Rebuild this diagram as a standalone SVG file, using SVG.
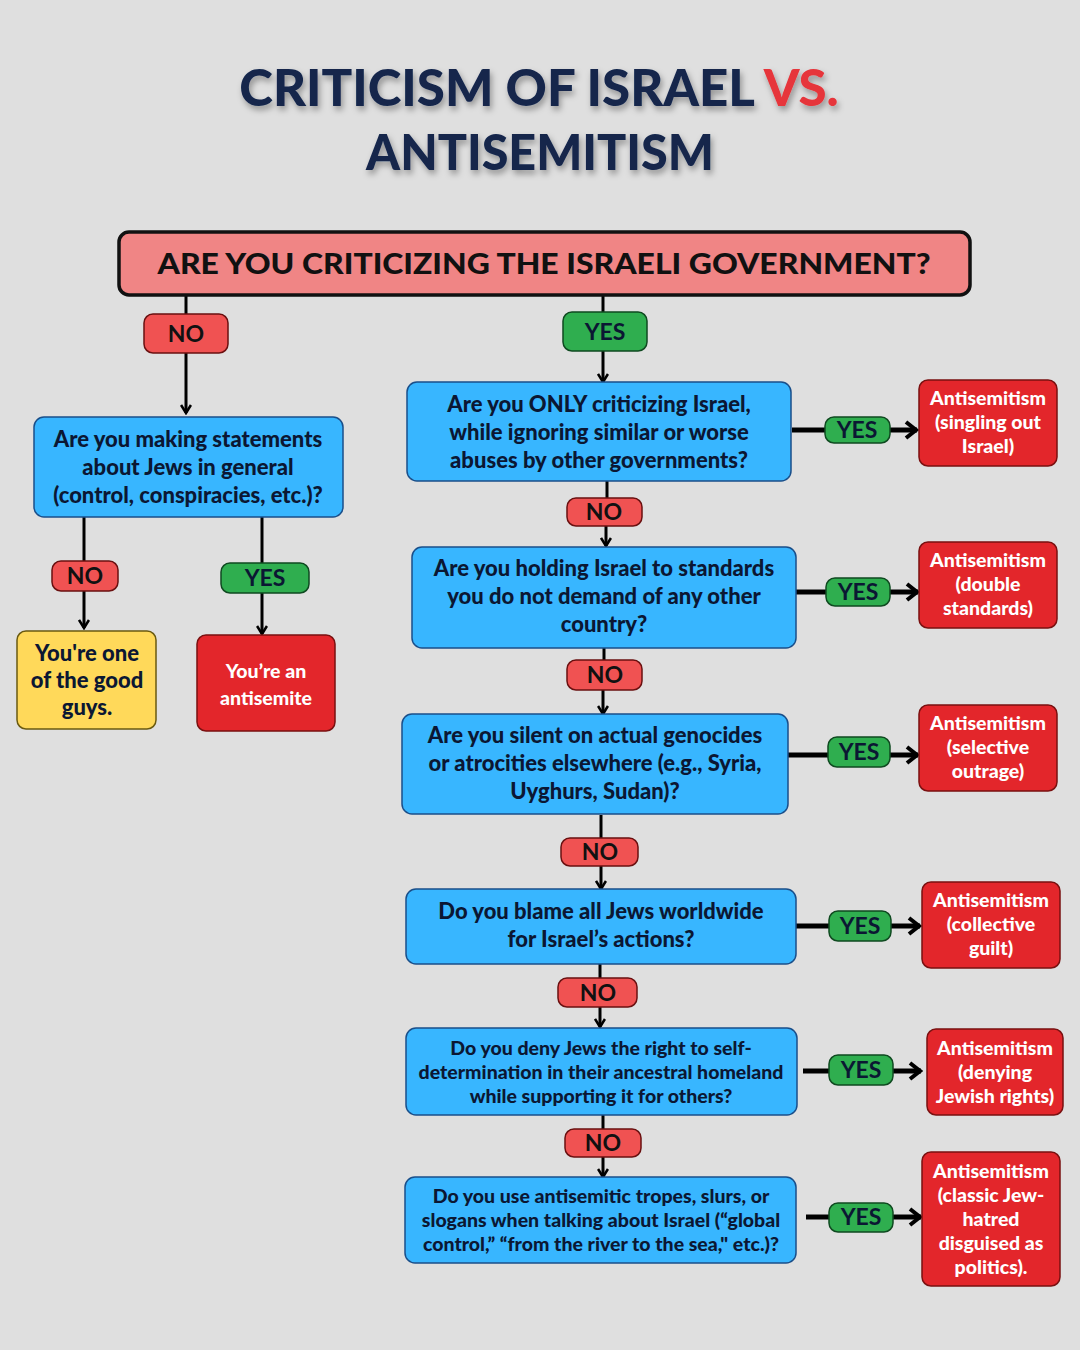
<svg xmlns="http://www.w3.org/2000/svg" width="1080" height="1350" viewBox="0 0 1080 1350">
<defs>
<style>
.q{fill:#38b6ff;stroke:#1a4f8a;stroke-width:1.5}
.res{fill:#e3262b;stroke:#7a1010;stroke-width:1.5}
.no{fill:#f05252;stroke:#6a1010;stroke-width:1.5}
.yes{fill:#2fae4f;stroke:#0f4a20;stroke-width:1.5}
.qt{font-family:Lato,"Open Sans",sans-serif;font-weight:900;font-size:22px;fill:#0b1733;text-anchor:middle}
.qs{font-family:Lato,"Open Sans",sans-serif;font-weight:900;font-size:19.5px;fill:#0b1733;text-anchor:middle}
.rt{font-family:Lato,"Open Sans",sans-serif;font-weight:900;font-size:19.5px;fill:#ffffff;text-anchor:middle}
.lt{font-family:Lato,"Open Sans",sans-serif;font-weight:700;font-size:23px;text-anchor:middle}
.ln{fill:none;stroke:#000;stroke-width:3}
.lh{fill:none;stroke:#000;stroke-width:5}
</style>
<marker id="ad" viewBox="0 0 12 12" refX="10" refY="6" markerWidth="12" markerHeight="12" markerUnits="userSpaceOnUse" orient="auto">
<path d="M2,1 L10,6 L2,11" fill="none" stroke="#000" stroke-width="2.6"/>
</marker>
<marker id="ah" viewBox="0 0 16 20" refX="14" refY="10" markerWidth="16" markerHeight="20" markerUnits="userSpaceOnUse" orient="auto">
<path d="M3,2 L13,10 L3,18" fill="none" stroke="#000" stroke-width="4"/>
</marker>
<filter id="sh" x="-10%" y="-30%" width="120%" height="160%">
<feDropShadow dx="2" dy="4" stdDeviation="3" flood-color="#000" flood-opacity="0.35"/>
</filter>
</defs>
<rect width="1080" height="1350" fill="#dfdfdf"/>

<g id="title" filter="url(#sh)" font-family="Lato,'Open Sans',sans-serif" font-weight="900" text-anchor="middle">
<text x="539" y="106" font-size="51" fill="#13254c">CRITICISM OF ISRAEL <tspan fill="#e6343a">VS.</tspan></text>
<text x="540" y="170" font-size="48.5" fill="#13254c">ANTISEMITISM</text>
</g>

<g id="connectors">
<path class="ln" d="M186,295 V314"/>
<path class="ln" d="M186,353 V413" marker-end="url(#ad)"/>
<path class="ln" d="M603,295 V312"/>
<path class="ln" d="M603,351 V382" marker-end="url(#ad)"/>
<path class="ln" d="M84,517 V561"/>
<path class="ln" d="M84,591 V628" marker-end="url(#ad)"/>
<path class="ln" d="M262,517 V563"/>
<path class="ln" d="M262,593 V634" marker-end="url(#ad)"/>
<path class="ln" d="M607,481 V498"/>
<path class="ln" d="M606,526 V546" marker-end="url(#ad)"/>
<path class="ln" d="M604,648 V660"/>
<path class="ln" d="M603,690 V714" marker-end="url(#ad)"/>
<path class="ln" d="M601,815 V838"/>
<path class="ln" d="M601,866 V889" marker-end="url(#ad)"/>
<path class="ln" d="M600,964 V978"/>
<path class="ln" d="M600,1007 V1027" marker-end="url(#ad)"/>
<path class="ln" d="M603,1115 V1129"/>
<path class="ln" d="M603,1157 V1177" marker-end="url(#ad)"/>
<path class="lh" d="M792,430 H826"/>
<path class="lh" d="M890,430 H917" marker-end="url(#ah)"/>
<path class="lh" d="M796,592 H827"/>
<path class="lh" d="M890,592 H918" marker-end="url(#ah)"/>
<path class="lh" d="M788,755 H829"/>
<path class="lh" d="M890,755 H918" marker-end="url(#ah)"/>
<path class="lh" d="M796,926 H829"/>
<path class="lh" d="M891,926 H920" marker-end="url(#ah)"/>
<path class="lh" d="M803,1071 H830"/>
<path class="lh" d="M893,1071 H921" marker-end="url(#ah)"/>
<path class="lh" d="M806,1217 H830"/>
<path class="lh" d="M893,1217 H921" marker-end="url(#ah)"/>
</g>

<g id="n-top">
<rect x="119" y="232" width="851" height="63" rx="10" fill="#f08585" stroke="#111" stroke-width="3.5"/>
<text x="544" y="274" font-family="Lato,'Open Sans',sans-serif" font-weight="900" font-size="28" fill="#111" text-anchor="middle" textLength="773" lengthAdjust="spacingAndGlyphs">ARE YOU CRITICIZING THE ISRAELI GOVERNMENT?</text>
</g>

<g id="lbl-no-top"><rect class="no" x="144" y="314" width="84" height="39" rx="9"/><text class="lt" x="186" y="342" fill="#111">NO</text></g>
<g id="lbl-yes-top"><rect class="yes" x="563" y="312" width="84" height="39" rx="9"/><text class="lt" x="605" y="340" fill="#0b1733">YES</text></g>

<g id="n-left">
<rect class="q" x="34" y="417" width="309" height="100" rx="10"/>
<text class="qt" x="188" y="447">Are you making statements</text>
<text class="qt" x="188" y="475">about Jews in general</text>
<text class="qt" x="188" y="503">(control, conspiracies, etc.)?</text>
</g>
<g id="lbl-no-left"><rect class="no" x="52" y="561" width="66" height="30" rx="9"/><text class="lt" x="85" y="584" font-size="21" fill="#111">NO</text></g>
<g id="lbl-yes-left"><rect class="yes" x="221" y="563" width="88" height="30" rx="9"/><text class="lt" x="265" y="586" font-size="21" fill="#0b1733">YES</text></g>

<g id="n-good">
<rect x="17" y="631" width="139" height="98" rx="9" fill="#ffd95a" stroke="#6a5a10" stroke-width="1.5"/>
<text class="qt" x="87" y="661" fill="#111">You're one</text>
<text class="qt" x="87" y="688" fill="#111">of the good</text>
<text class="qt" x="87" y="715" fill="#111">guys.</text>
</g>
<g id="n-antisemite">
<rect class="res" x="197" y="635" width="138" height="96" rx="9"/>
<text class="rt" x="266" y="678" font-size="23">You’re an</text>
<text class="rt" x="266" y="705" font-size="23">antisemite</text>
</g>

<g id="q1">
<rect class="q" x="407" y="382" width="384" height="99" rx="10"/>
<text class="qt" x="599" y="412">Are you ONLY criticizing Israel,</text>
<text class="qt" x="599" y="440">while ignoring similar or worse</text>
<text class="qt" x="599" y="468">abuses by other governments?</text>
</g>
<g id="lbl-yes1"><rect class="yes" x="825" y="417" width="65" height="26" rx="9"/><text class="lt" x="857" y="438" font-size="21" fill="#0b1733">YES</text></g>
<g id="r1">
<rect class="res" x="919" y="380" width="138" height="86" rx="9"/>
<text class="rt" x="988" y="405">Antisemitism</text>
<text class="rt" x="988" y="429">(singling out</text>
<text class="rt" x="988" y="453">Israel)</text>
</g>
<g id="lbl-no1"><rect class="no" x="567" y="498" width="75" height="28" rx="9"/><text class="lt" x="604" y="520" font-size="21" fill="#111">NO</text></g>

<g id="q2">
<rect class="q" x="412" y="547" width="384" height="101" rx="10"/>
<text class="qt" x="604" y="576">Are you holding Israel to standards</text>
<text class="qt" x="604" y="604">you do not demand of any other</text>
<text class="qt" x="604" y="632">country?</text>
</g>
<g id="lbl-yes2"><rect class="yes" x="826" y="578" width="64" height="28" rx="9"/><text class="lt" x="858" y="600" font-size="21" fill="#0b1733">YES</text></g>
<g id="r2">
<rect class="res" x="919" y="542" width="138" height="86" rx="9"/>
<text class="rt" x="988" y="567">Antisemitism</text>
<text class="rt" x="988" y="591">(double</text>
<text class="rt" x="988" y="615">standards)</text>
</g>
<g id="lbl-no2"><rect class="no" x="567" y="660" width="75" height="30" rx="9"/><text class="lt" x="605" y="683" font-size="21" fill="#111">NO</text></g>

<g id="q3">
<rect class="q" x="402" y="714" width="386" height="100" rx="10"/>
<text class="qt" x="595" y="743">Are you silent on actual genocides</text>
<text class="qt" x="595" y="771">or atrocities elsewhere (e.g., Syria,</text>
<text class="qt" x="595" y="799">Uyghurs, Sudan)?</text>
</g>
<g id="lbl-yes3"><rect class="yes" x="828" y="737" width="62" height="30" rx="9"/><text class="lt" x="859" y="760" font-size="21" fill="#0b1733">YES</text></g>
<g id="r3">
<rect class="res" x="919" y="705" width="138" height="86" rx="9"/>
<text class="rt" x="988" y="730">Antisemitism</text>
<text class="rt" x="988" y="754">(selective</text>
<text class="rt" x="988" y="778">outrage)</text>
</g>
<g id="lbl-no3"><rect class="no" x="561" y="838" width="77" height="28" rx="9"/><text class="lt" x="600" y="860" font-size="21" fill="#111">NO</text></g>

<g id="q4">
<rect class="q" x="406" y="889" width="390" height="75" rx="10"/>
<text class="qt" x="601" y="919">Do you blame all Jews worldwide</text>
<text class="qt" x="601" y="947">for Israel’s actions?</text>
</g>
<g id="lbl-yes4"><rect class="yes" x="829" y="911" width="62" height="30" rx="9"/><text class="lt" x="860" y="934" font-size="21" fill="#0b1733">YES</text></g>
<g id="r4">
<rect class="res" x="922" y="882" width="138" height="86" rx="9"/>
<text class="rt" x="991" y="907">Antisemitism</text>
<text class="rt" x="991" y="931">(collective</text>
<text class="rt" x="991" y="955">guilt)</text>
</g>
<g id="lbl-no4"><rect class="no" x="558" y="978" width="79" height="29" rx="9"/><text class="lt" x="598" y="1001" font-size="21" fill="#111">NO</text></g>

<g id="q5">
<rect class="q" x="406" y="1028" width="391" height="87" rx="10"/>
<text class="qs" x="601" y="1055">Do you deny Jews the right to self-</text>
<text class="qs" x="601" y="1079">determination in their ancestral homeland</text>
<text class="qs" x="601" y="1103">while supporting it for others?</text>
</g>
<g id="lbl-yes5"><rect class="yes" x="829" y="1055" width="64" height="30" rx="9"/><text class="lt" x="861" y="1078" font-size="21" fill="#0b1733">YES</text></g>
<g id="r5">
<rect class="res" x="927" y="1029" width="136" height="86" rx="9"/>
<text class="rt" x="995" y="1055">Antisemitism</text>
<text class="rt" x="995" y="1079">(denying</text>
<text class="rt" x="995" y="1103">Jewish rights)</text>
</g>
<g id="lbl-no5"><rect class="no" x="565" y="1129" width="76" height="28" rx="9"/><text class="lt" x="603" y="1151" font-size="21" fill="#111">NO</text></g>

<g id="q6">
<rect class="q" x="405" y="1177" width="391" height="86" rx="10"/>
<text class="qs" x="601" y="1203">Do you use antisemitic tropes, slurs, or</text>
<text class="qs" x="601" y="1227">slogans when talking about Israel (“global</text>
<text class="qs" x="601" y="1251">control,” “from the river to the sea," etc.)?</text>
</g>
<g id="lbl-yes6"><rect class="yes" x="829" y="1203" width="64" height="29" rx="9"/><text class="lt" x="861" y="1225" font-size="21" fill="#0b1733">YES</text></g>
<g id="r6">
<rect class="res" x="922" y="1152" width="138" height="134" rx="9"/>
<text class="rt" x="991" y="1178">Antisemitism</text>
<text class="rt" x="991" y="1202">(classic Jew-</text>
<text class="rt" x="991" y="1226">hatred</text>
<text class="rt" x="991" y="1250">disguised as</text>
<text class="rt" x="991" y="1274">politics).</text>
</g>
</svg>
